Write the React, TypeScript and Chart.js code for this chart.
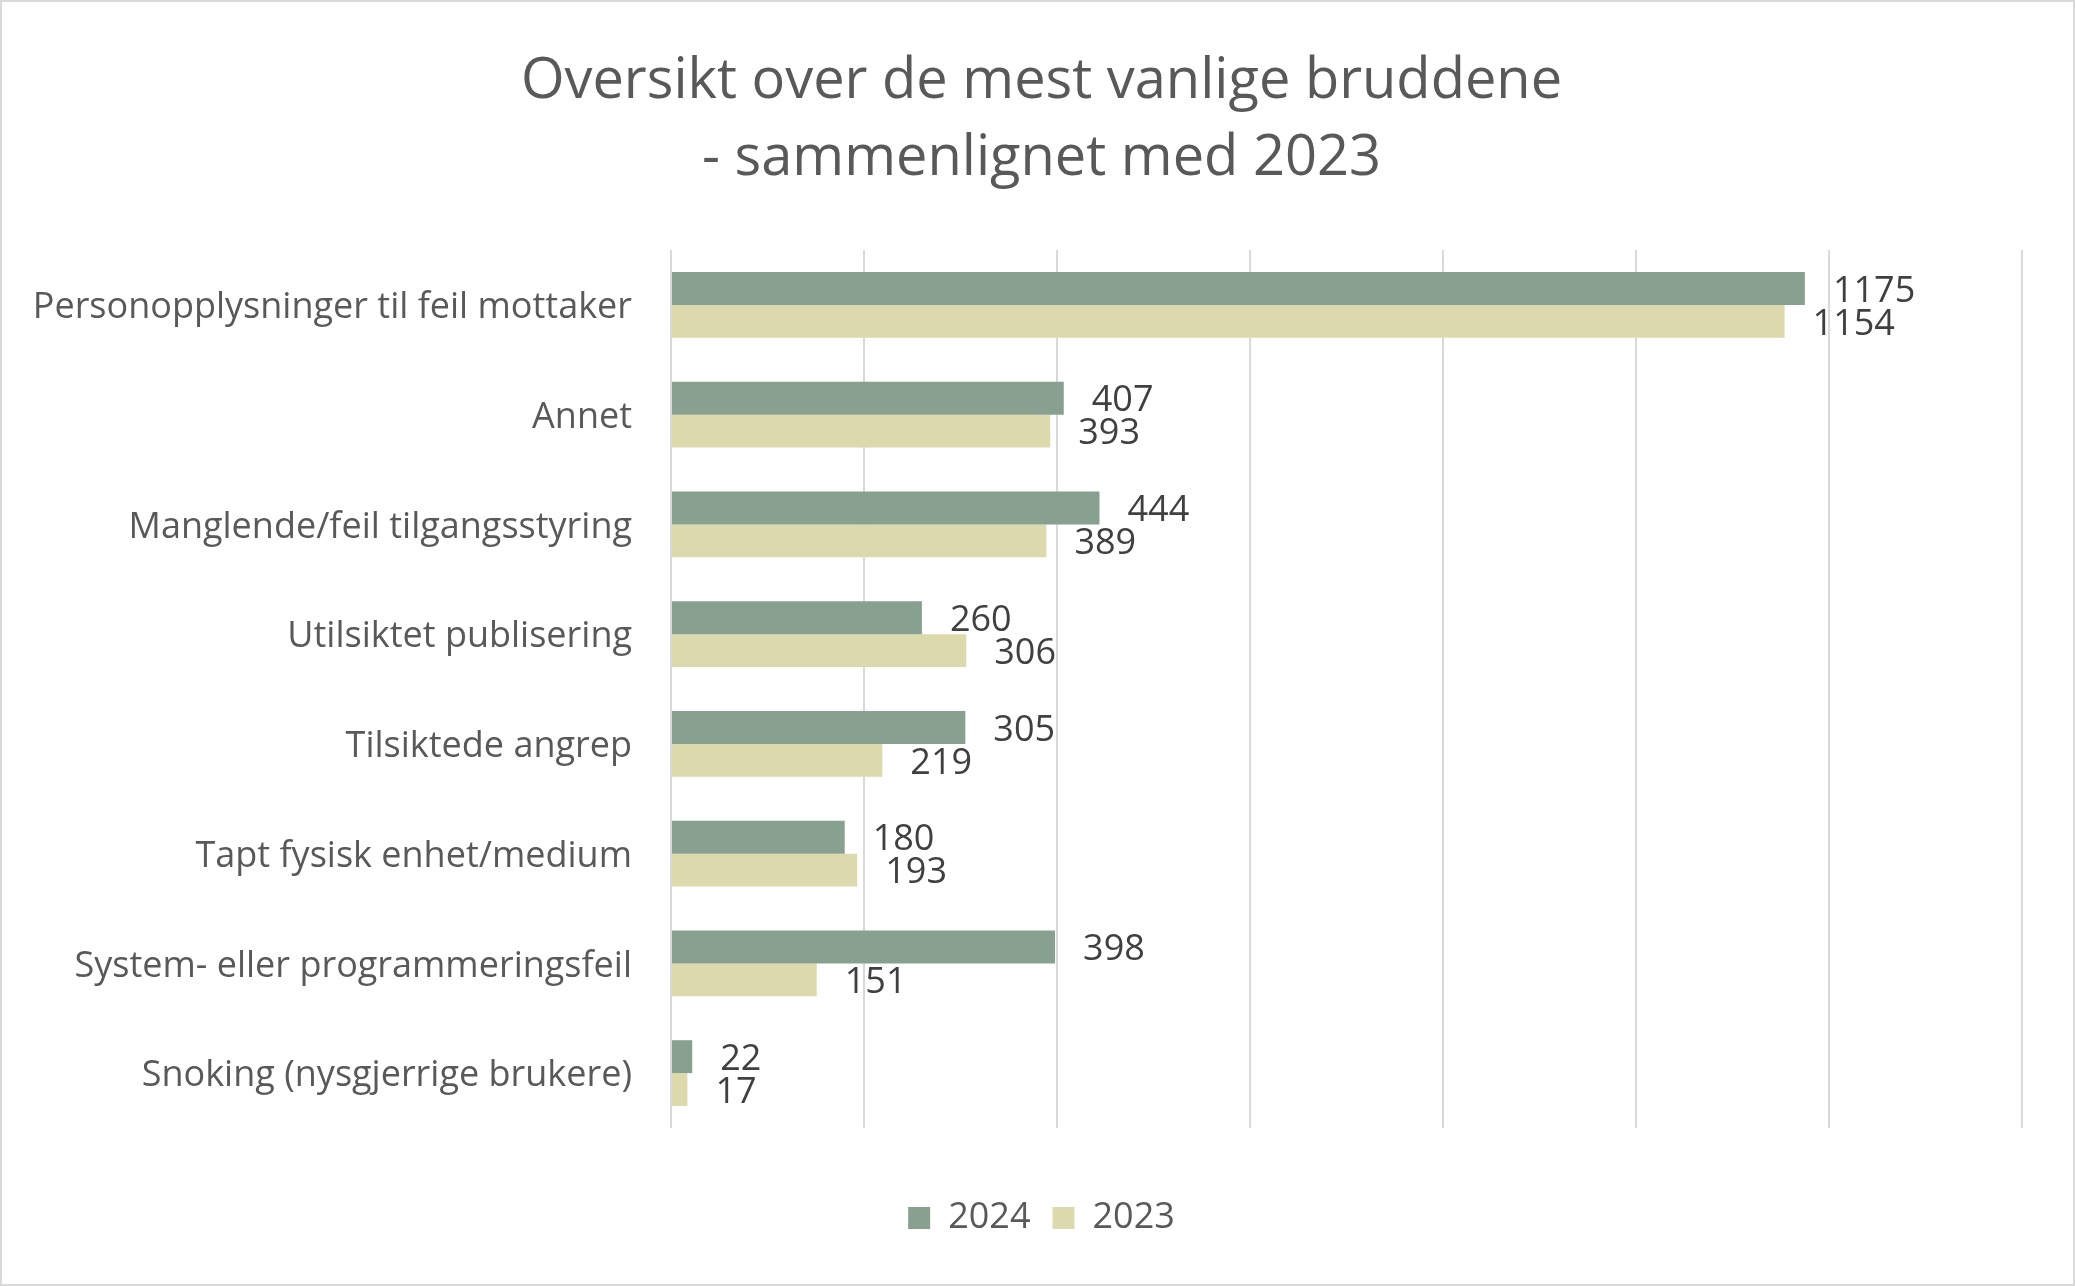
import React, { useEffect, useRef } from "react";
import { Chart, registerables } from "chart.js";

Chart.register(...registerables);

const categories = [
  "Personopplysninger til feil mottaker",
  "Annet",
  "Manglende/feil tilgangsstyring",
  "Utilsiktet publisering",
  "Tilsiktede angrep",
  "Tapt fysisk enhet/medium",
  "System- eller programmeringsfeil",
  "Snoking (nysgjerrige brukere)",
];
const values2024 = [1175, 407, 444, 260, 305, 180, 398, 22];
const values2023 = [1154, 393, 389, 306, 219, 193, 151, 17];
const seriesLabels = ["2024", "2023"];
const titleLines = ["Oversikt over de mest vanlige bruddene", "- sammenlignet med 2023"];
const axisMax = 1400;
const axisStep = 200;

const FAMILY = "'Open Sans', sans-serif";

const valueLabels = {
  id: "valueLabels",
  afterDatasetsDraw(chart: any) {
    const ctx = chart.ctx;
    ctx.save();
    ctx.font = `36px ${FAMILY}`;
    ctx.fillStyle = "#404040";
    ctx.textAlign = "left";
    ctx.textBaseline = "middle";
    chart.data.datasets.forEach((ds: any, i: number) => {
      const meta = chart.getDatasetMeta(i);
      meta.data.forEach((bar: any, j: number) => {
        ctx.fillText(String(ds.data[j]), bar.x + 28, bar.y + 3);
      });
    });
    ctx.restore();
  },
};

const frame = {
  id: "frame",
  beforeDraw(chart: any) {
    const ctx = chart.ctx;
    ctx.save();
    ctx.fillStyle = "#FFFFFF";
    ctx.fillRect(0, 0, chart.width, chart.height);
    ctx.strokeStyle = "#D9D9D9";
    ctx.lineWidth = 2;
    ctx.strokeRect(1, 1, chart.width - 2, chart.height - 2);
    ctx.restore();
  },
};

const LEFT_PAD = 8;

export default function App() {
  const ref = useRef<HTMLCanvasElement>(null);
  useEffect(() => {
    document.body.style.margin = "0";
    const canvas = ref.current!;
    const chart = new Chart(canvas, {
      type: "bar",
      data: {
        labels: categories,
        datasets: [
          {
            label: seriesLabels[0],
            data: values2024,
            backgroundColor: "#87A090",
            barPercentage: 1,
            categoryPercentage: 0.6,
            xAxisID: "x",
            yAxisID: "y",
          },
          {
            label: seriesLabels[1],
            data: values2023,
            backgroundColor: "#DCD9AD",
            barPercentage: 1,
            categoryPercentage: 0.6,
            xAxisID: "x",
            yAxisID: "y",
          },
        ],
      },
      options: {
        indexAxis: "y",
        responsive: false,
        animation: false,
        devicePixelRatio: 1,
        layout: { padding: { left: LEFT_PAD, right: 0, top: 0, bottom: 40 } },
        scales: {
          x: {
            min: 0,
            max: axisMax,
            ticks: { stepSize: axisStep, display: false },
            grid: { color: "#D9D9D9", lineWidth: 2, drawTicks: false },
            border: { display: false },
            afterFit: (s: any) => {
              s.height = 50;
            },
          },
          y: {
            grid: { display: false },
            border: { display: false },
            ticks: {
              font: { family: FAMILY, size: 36 },
              color: "#595959",
              padding: 31,
              labelOffset: 3,
            },
            afterFit: (s: any) => {
              s.width = 671 - LEFT_PAD;
            },
          },
          yRight: {
            type: "linear",
            position: "right",
            display: true,
            ticks: { display: false },
            grid: { display: false, drawTicks: false },
            border: { display: false },
            afterFit: (s: any) => {
              s.width = 53;
            },
          },
        },
        plugins: {
          title: {
            display: true,
            text: titleLines,
            font: { family: FAMILY, size: 56, weight: "normal", lineHeight: 77 / 56 },
            color: "#595959",
            padding: { top: 44, bottom: 52 },
          },
          legend: {
            position: "bottom",
            labels: {
              boxWidth: 22,
              boxHeight: 22,
              font: { family: FAMILY, size: 36 },
              color: "#595959",
              padding: 22,
            },
          },
          tooltip: { enabled: false },
        },
      } as any,
      plugins: [valueLabels, frame],
    });
    return () => chart.destroy();
  }, []);
  return <canvas ref={ref} width={2075} height={1286} style={{ display: "block" }} />;
}
